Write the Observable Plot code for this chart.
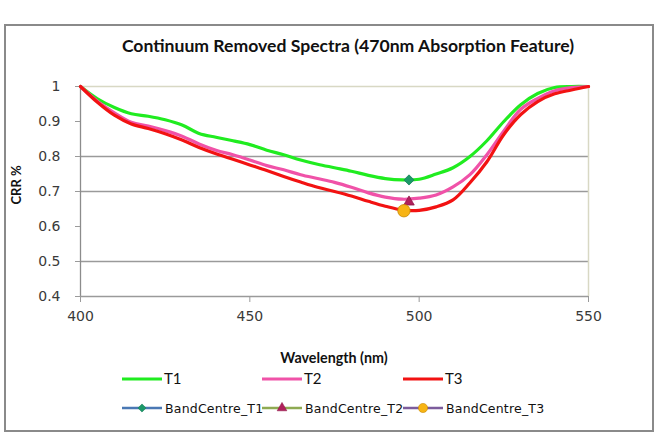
<!DOCTYPE html>
<html>
<head>
<meta charset="utf-8">
<script src="https://cdn.jsdelivr.net/npm/d3@7"></script>
<script src="https://cdn.jsdelivr.net/npm/@observablehq/plot@0.6"></script>
<style>
  html, body { margin: 0; padding: 0; background: #fff; }
  #chart { position: relative; width: 658px; height: 434px; overflow: hidden; }
  #chart > * { position: absolute; left: 0; top: 0; }
  #frame { left: 4px !important; top: 24px !important; width: 646px; height: 404px; border: 2px solid #8a8a8a; pointer-events: none; }
</style>
</head>
<body>
<div id="chart"><div id="frame"></div></div>
<script>
// Wavelength grid (nm) and continuum-removed reflectance for the three treatments
const wavelength = [400, 405, 410, 415, 420, 425, 430, 435, 440, 445, 450, 455, 460, 465, 470,
                    475, 480, 485, 490, 495, 500, 505, 510, 515, 520, 525, 530, 535, 540, 545, 550];
const t1 = [1.0, 0.965, 0.94, 0.922, 0.915, 0.905, 0.89, 0.866, 0.855, 0.845, 0.834, 0.818, 0.805, 0.79, 0.778,
            0.768, 0.758, 0.746, 0.737, 0.733, 0.735, 0.75, 0.768, 0.80, 0.845, 0.90, 0.948, 0.98, 0.997, 1.0, 1.0];
const t2 = [1.0, 0.958, 0.925, 0.898, 0.887, 0.874, 0.858, 0.836, 0.818, 0.805, 0.79, 0.774, 0.762, 0.748, 0.737,
            0.726, 0.712, 0.696, 0.684, 0.678, 0.681, 0.69, 0.713, 0.748, 0.805, 0.873, 0.935, 0.966, 0.988, 0.997, 1.0];
const t3 = [1.0, 0.955, 0.918, 0.893, 0.88, 0.865, 0.847, 0.826, 0.808, 0.792, 0.776, 0.760, 0.743, 0.727, 0.712,
            0.700, 0.687, 0.672, 0.658, 0.647, 0.646, 0.656, 0.676, 0.725, 0.785, 0.863, 0.92, 0.957, 0.979, 0.99, 1.0];

// Band centre of the 470 nm absorption feature for each treatment
const centreNames = ["BandCentre_T1", "BandCentre_T2", "BandCentre_T3"];
const centreWavelength = [497, 497, 495.5];
const centreDepth = [0.733, 0.67, 0.645];

const seriesNames = ["T1", "T2", "T3"];
const xTicks = [400, 450, 500, 550];
const yTicks = [0.4, 0.5, 0.6, 0.7, 0.8, 0.9, 1.0];
const gridValues = [0.5, 0.7, 0.8];

const lineColors = {T1: "#20ec20", T2: "#f052a8", T3: "#f21212"};
const centreStyle = [
  {symbol: "diamond2", fill: "#1c9868", stroke: "#16805a", r: 4.6, legendSize: 42, legendLine: "#4a78b4"},
  {symbol: "triangle", fill: "#b0205c", stroke: "#901848", r: 3.9, legendSize: 40, legendLine: "#8eaa52"},
  {symbol: "circle", fill: "#f7b414", stroke: "#c88a08", r: 6.2, legendSize: 66, legendLine: "#7c5c9c"}
];

const spectra = [t1, t2, t3].flatMap((vals, i) =>
  vals.map((v, j) => ({series: seriesNames[i], wl: wavelength[j], crr: v})));
const centres = centreNames.map((name, i) => ({
  name, wl: centreWavelength[i], crr: centreDepth[i], ...centreStyle[i]
}));

const plot = Plot.plot({
  width: 658,
  height: 434,
  marginLeft: 80,
  marginRight: 70,
  marginTop: 86,
  marginBottom: 138,
  style: {fontFamily: "DejaVu Sans", fontSize: "14px", color: "#3a3a3a", background: "transparent", overflow: "visible"},
  x: {domain: [400, 550], label: null},
  y: {domain: [0.4, 1.0], label: null},
  marks: [
    Plot.ruleY(gridValues, {stroke: "#9a9a9a", strokeWidth: 1.3}),
    Plot.ruleY([1.0], {stroke: "#d8d8c4", strokeWidth: 1.5}),
    Plot.ruleX([550], {stroke: "#d8d8c4", strokeWidth: 1.5}),
    Plot.ruleX([400], {stroke: "#8c8c8c", strokeWidth: 1.3}),
    Plot.ruleY([0.4], {stroke: "#9a9a9a", strokeWidth: 1.3}),
    Plot.axisX({ticks: xTicks, tickSize: 6, tickPadding: 9, tickFormat: d => String(d), stroke: "#9a9a9a"}),
    Plot.axisY({ticks: yTicks, tickSize: 5, tickPadding: 15, tickFormat: d => (d === 1 ? "1" : d.toFixed(1)), stroke: "#9a9a9a"}),
    Plot.line(spectra, {x: "wl", y: "crr", z: "series", stroke: d => lineColors[d.series],
      strokeWidth: 3.2, curve: "catmull-rom", strokeLinejoin: "round"}),
    // one dot mark per band centre so each keeps its own marker size
    ...centres.map(c => Plot.dot([c], {x: "wl", y: "crr", symbol: c.symbol, fill: c.fill, stroke: c.stroke,
      r: c.r, strokeWidth: 0.8}))
  ]
});
plot.style.position = "absolute";
const chart = document.getElementById("chart");
chart.insertBefore(plot, chart.firstChild);

// Title, axis titles and legend
const svg = d3.select("#chart").append("svg")
  .attr("width", 658).attr("height", 434)
  .style("position", "absolute").style("left", 0).style("top", 0);

svg.append("text")
  .attr("x", 348).attr("y", 52)
  .attr("text-anchor", "middle")
  .style("font-family", "Lato").style("font-weight", "bold").style("font-size", "17.6px").style("fill", "#111")
  .text("Continuum Removed Spectra (470nm Absorption Feature)");

svg.append("text")
  .attr("x", 334).attr("y", 363)
  .attr("text-anchor", "middle")
  .style("font-family", "Lato").style("font-weight", "bold").style("font-size", "14.3px").style("fill", "#111")
  .text("Wavelength (nm)");

svg.append("text")
  .attr("transform", "translate(21,185) rotate(-90)")
  .attr("text-anchor", "middle")
  .style("font-family", "Lato").style("font-weight", "bold").style("font-size", "13px").style("fill", "#111")
  .text("CRR %");

const legendX = [122, 262, 403];
seriesNames.forEach((name, i) => {
  const g = svg.append("g").attr("transform", `translate(${legendX[i]},379)`);
  g.append("line").attr("x1", 0).attr("x2", 40).attr("y1", 0).attr("y2", 0)
    .attr("stroke", lineColors[name]).attr("stroke-width", 3);
  g.append("text").attr("x", 42).attr("y", 5)
    .style("font-family", "Lato").style("font-size", "15px").style("fill", "#111").text(name);
});

centres.forEach((c, i) => {
  const g = svg.append("g").attr("transform", `translate(${legendX[i]},408)`);
  g.append("line").attr("x1", 0).attr("x2", 40).attr("y1", 0).attr("y2", 0)
    .attr("stroke", c.legendLine).attr("stroke-width", 2.6);
  const sym = {diamond2: d3.symbolDiamond2, triangle: d3.symbolTriangle, circle: d3.symbolCircle}[c.symbol];
  g.append("path").attr("transform", "translate(20,0)")
    .attr("d", d3.symbol(sym, c.legendSize)())
    .attr("fill", c.fill).attr("stroke", c.stroke).attr("stroke-width", 0.6);
  g.append("text").attr("x", 43).attr("y", 4.5)
    .style("font-family", "DejaVu Sans").style("font-size", "12.5px").style("fill", "#111")
    .style("letter-spacing", "0.2px").text(c.name);
});
</script>
</body>
</html>
